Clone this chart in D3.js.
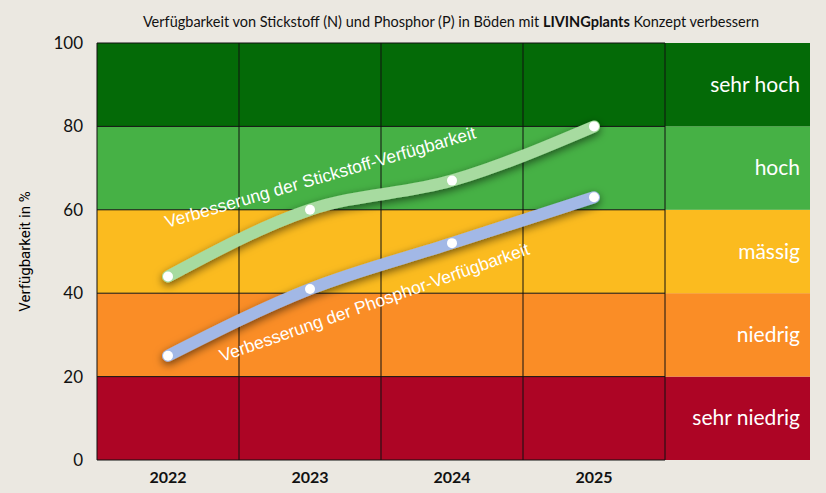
<!DOCTYPE html>
<html>
<head>
<meta charset="utf-8">
<script src="https://cdn.jsdelivr.net/npm/d3@7"></script>
<style>
  body { margin: 0; background: #ebe8e1; }
  svg { display: block; }
</style>
</head>
<body>
<svg id="chart" width="826" height="493"></svg>
<script>
// data
const years = ["2022", "2023", "2024", "2025"];
const stickstoff = [44, 60, 67, 80];
const phosphor = [25, 41, 52, 63];
const bandLimits = [0, 20, 40, 60, 80, 100];
const bandNames = ["sehr niedrig", "niedrig", "mässig", "hoch", "sehr hoch"];
const bandColors = ["#ad0525", "#fa8d26", "#fbbb1f", "#46b145", "#046a07"];
const yTicks = [0, 20, 40, 60, 80, 100];

const svg = d3.select("#chart");
const plotLeft = 97, plotRight = 665, legendRight = 810, plotTop = 43, plotBottom = 460;

const x = d3.scaleBand().domain(years).range([plotLeft, plotRight]);
const y = d3.scaleLinear().domain([0, 100]).range([plotBottom, plotTop]);

// shadow filter
const defs = svg.append("defs");
const f = defs.append("filter").attr("id", "shadow").attr("x", "-20%").attr("y", "-50%").attr("width", "140%").attr("height", "200%");
f.append("feDropShadow").attr("dx", 0).attr("dy", 3).attr("stdDeviation", 4).attr("flood-color", "#000").attr("flood-opacity", 0.55);

// bands (plot + legend column)
const bands = d3.range(bandNames.length);
svg.selectAll("rect.band").data(bands).enter().append("rect")
  .attr("x", plotLeft).attr("width", legendRight - plotLeft)
  .attr("y", i => y(bandLimits[i + 1]))
  .attr("height", i => y(bandLimits[i]) - y(bandLimits[i + 1]))
  .attr("fill", i => bandColors[i]);

// grid
const grid = svg.append("g").attr("stroke", "#111").attr("stroke-width", 1);
yTicks.forEach(t => grid.append("line").attr("x1", plotLeft).attr("x2", plotRight).attr("y1", y(t)).attr("y2", y(t)));
d3.range(years.length + 1).forEach(i => {
  const gx = plotLeft + i * x.bandwidth();
  grid.append("line").attr("x1", gx).attr("x2", gx).attr("y1", plotTop).attr("y2", plotBottom);
});

// legend labels
svg.selectAll("text.band").data(bands).enter().append("text")
  .attr("x", 800).attr("y", i => (y(bandLimits[i]) + y(bandLimits[i + 1])) / 2 + 7)
  .attr("text-anchor", "end").attr("fill", "#fff")
  .attr("font-family", "Lato, 'Open Sans', sans-serif").attr("font-size", 21)
  .text(i => bandNames[i]);

// y axis
const yAxis = svg.append("g").attr("transform", `translate(${plotLeft},0)`)
  .call(d3.axisLeft(y).tickValues(yTicks).tickSize(0).tickPadding(14));
yAxis.select(".domain").remove();
yAxis.selectAll("text").attr("font-size", 17).attr("font-family", "Lato, sans-serif").attr("fill", "#111");

svg.append("text").attr("transform", `translate(30,${(plotTop + plotBottom) / 2}) rotate(-90)`)
  .attr("text-anchor", "middle").attr("font-size", 15).attr("font-family", "Roboto, sans-serif")
  .text("Verfügbarkeit in %");

// x axis
const xAxis = svg.append("g").attr("transform", `translate(0,${plotBottom})`)
  .call(d3.axisBottom(x).tickSize(0).tickPadding(12));
xAxis.select(".domain").remove();
xAxis.selectAll("text").attr("font-size", 16).attr("font-weight", "bold").attr("font-family", "Lato, sans-serif").attr("fill", "#111");

// title
const title = svg.append("text").attr("x", 451).attr("y", 27).attr("text-anchor", "middle")
  .attr("font-family", "Lato, sans-serif").attr("font-size", 14.5).attr("fill", "#111");
title.append("tspan").text("Verfügbarkeit von Stickstoff (N) und Phosphor (P) in Böden mit ");
title.append("tspan").attr("font-weight", "bold").text("LIVINGplants");
title.append("tspan").text(" Konzept verbessern");

// lines
const line = d3.line().x((d, i) => x(years[i]) + x.bandwidth() / 2).y(d => y(d)).curve(d3.curveMonotoneX);
[[stickstoff, "#a7dba0"], [phosphor, "#a2b8e6"]].forEach(([vals, col]) => {
  svg.append("path").attr("d", line(vals)).attr("fill", "none").attr("stroke", col)
    .attr("stroke-width", 12).attr("stroke-linecap", "round").attr("filter", "url(#shadow)");
  svg.selectAll(null).data(vals).enter().append("circle")
    .attr("cx", (d, i) => x(years[i]) + x.bandwidth() / 2).attr("cy", d => y(d))
    .attr("r", 5).attr("fill", "#fff");
});

// line labels
svg.append("text").attr("transform", "translate(167,228) rotate(-16.2)")
  .attr("fill", "#fff").attr("font-family", "'Liberation Sans', Arial, sans-serif").attr("font-size", 17.5)
  .text("Verbesserung der Stickstoff-Verfügbarkeit");
svg.append("text").attr("transform", "translate(222,362) rotate(-19.3)")
  .attr("fill", "#fff").attr("font-family", "'Liberation Sans', Arial, sans-serif").attr("font-size", 17.5)
  .text("Verbesserung der Phosphor-Verfügbarkeit");
</script>
</body>
</html>
